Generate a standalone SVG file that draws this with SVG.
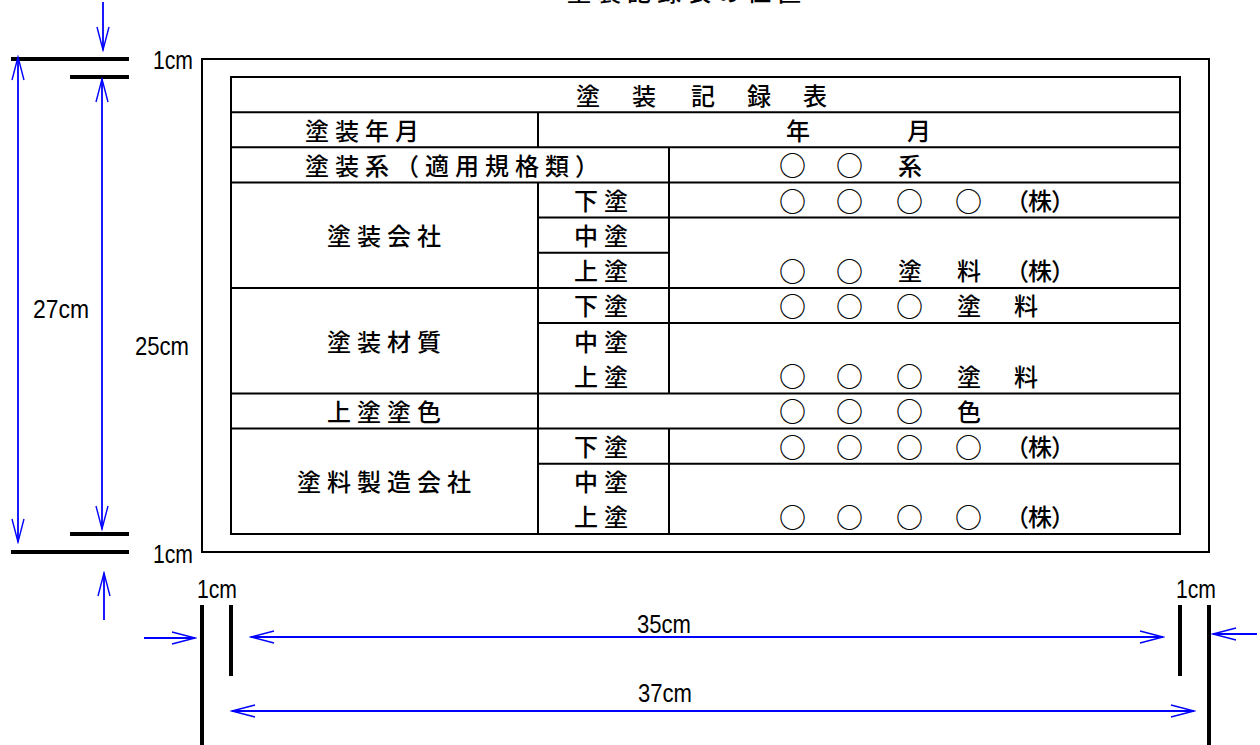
<svg xmlns="http://www.w3.org/2000/svg" width="1260" height="745" viewBox="0 0 1260 745">
<style>
.t{font-family:"Noto Sans CJK JP","Noto Sans CJK SC",sans-serif;font-size:24px;font-weight:500;fill:#000}
.c{font-family:"Noto Sans CJK JP","Noto Sans CJK SC",sans-serif;font-size:27px;font-weight:500;fill:#000}
.ls{letter-spacing:6px}
.d{font-family:"Liberation Sans",Arial,sans-serif;font-size:26px;fill:#000}
.g{stroke:#000;stroke-width:2;fill:none}
.k{stroke:#000;stroke-width:4;fill:none}
.b{stroke:#0000ff;stroke-width:1.8;fill:none}
</style>
<defs>
<marker id="ah" markerUnits="userSpaceOnUse" markerWidth="26" markerHeight="16" refX="24" refY="8" orient="auto-start-reverse" viewBox="0 0 26 16">
<path d="M1,2 L24,8 L1,14" fill="none" stroke="#0000ff" stroke-width="1.4"/>
</marker>
</defs>
<rect width="1260" height="745" fill="#fff"/>
<text class="t ls" x="567" y="0.5">塗装記録表の位置</text>
<g id="outer-frame">
<rect class="g" x="202" y="59" width="1007" height="493"/>
</g>
<g id="table">
<rect class="g" x="231" y="77" width="949" height="457"/>
<g class="g">
<line x1="231" y1="112.15" x2="1180" y2="112.15"/>
<line x1="231" y1="147.3" x2="1180" y2="147.3"/>
<line x1="231" y1="182.46" x2="1180" y2="182.46"/>
<line x1="538" y1="217.6" x2="1180" y2="217.6"/>
<line x1="538" y1="252.77" x2="669" y2="252.77"/>
<line x1="231" y1="287.9" x2="1180" y2="287.9"/>
<line x1="538" y1="323.1" x2="1180" y2="323.1"/>
<line x1="231" y1="393.4" x2="1180" y2="393.4"/>
<line x1="231" y1="428.5" x2="1180" y2="428.5"/>
<line x1="538" y1="463.7" x2="1180" y2="463.7"/>
<line x1="538" y1="112.15" x2="538" y2="147.3"/>
<line x1="669" y1="147.3" x2="669" y2="182.46"/>
<line x1="538" y1="182.46" x2="538" y2="393.4"/>
<line x1="669" y1="182.46" x2="669" y2="393.4"/>
<line x1="538" y1="393.4" x2="538" y2="534"/>
<line x1="669" y1="428.5" x2="669" y2="534"/>
</g>
<text class="t" x="576 632 691 747 803" y="104.5">塗装記録表</text>
<text class="t ls" x="305" y="139.7">塗装年月</text>
<text class="t" x="786 907" y="139.7">年月</text>
<text class="t ls" x="305" y="174.8">塗装系（適用規格類）</text>
<text class="c" x="779 836" y="176.3">○○</text>
<text class="t" x="898" y="174.8">系</text>
<text class="t ls" x="327" y="245.1">塗装会社</text>
<text class="t ls" x="574" y="210">下塗</text>
<text class="t ls" x="574" y="245.1">中塗</text>
<text class="t ls" x="574" y="280.3">上塗</text>
<text class="c" x="779 836 896 955" y="211.5">○○○○</text>
<text class="t" x="1005 1028 1051" y="210">（株）</text>
<text class="c" x="779 836" y="281.8">○○</text>
<text class="t" x="898 957 1005 1028 1051" y="280.3">塗料（株）</text>
<text class="t ls" x="327" y="350.6">塗装材質</text>
<text class="t ls" x="574" y="315.4">下塗</text>
<text class="t ls" x="574" y="350.6">中塗</text>
<text class="t ls" x="574" y="385.7">上塗</text>
<text class="c" x="779 836 896" y="316.9">○○○</text>
<text class="t" x="957 1014" y="315.4">塗料</text>
<text class="c" x="779 836 896" y="387.2">○○○</text>
<text class="t" x="957 1014" y="385.7">塗料</text>
<text class="t ls" x="327" y="420.9">上塗塗色</text>
<text class="c" x="779 836 896" y="422.4">○○○</text>
<text class="t" x="957" y="420.9">色</text>
<text class="t ls" x="297" y="491.2">塗料製造会社</text>
<text class="t ls" x="574" y="456">下塗</text>
<text class="t ls" x="574" y="491.2">中塗</text>
<text class="t ls" x="574" y="526.3">上塗</text>
<text class="c" x="779 836 896 955" y="457.5">○○○○</text>
<text class="t" x="1005 1028 1051" y="456">（株）</text>
<text class="c" x="779 836 896 955" y="527.8">○○○○</text>
<text class="t" x="1005 1028 1051" y="526.3">（株）</text>
</g>
<g id="dimension-marks">
<line class="k" x1="11" y1="59" x2="129" y2="59"/>
<line class="k" x1="70" y1="77" x2="129" y2="77"/>
<line class="k" x1="70" y1="534" x2="129" y2="534"/>
<line class="k" x1="11" y1="552" x2="129" y2="552"/>
<line class="k" x1="202" y1="605" x2="202" y2="745"/>
<line class="k" x1="231" y1="605" x2="231" y2="676"/>
<line class="k" x1="1180" y1="605" x2="1180" y2="676"/>
<line class="k" x1="1209" y1="605" x2="1209" y2="745"/>
<text class="d" x="153" y="69" textLength="40" lengthAdjust="spacingAndGlyphs">1cm</text>
<text class="d" x="153" y="563" textLength="40" lengthAdjust="spacingAndGlyphs">1cm</text>
<text class="d" x="197" y="598" textLength="40" lengthAdjust="spacingAndGlyphs">1cm</text>
<text class="d" x="1176" y="598" textLength="40" lengthAdjust="spacingAndGlyphs">1cm</text>
<text class="d" x="33" y="318" textLength="56" lengthAdjust="spacingAndGlyphs">27cm</text>
<text class="d" x="135" y="355" textLength="54" lengthAdjust="spacingAndGlyphs">25cm</text>
<text class="d" x="637" y="633" textLength="54" lengthAdjust="spacingAndGlyphs">35cm</text>
<text class="d" x="638" y="702" textLength="54" lengthAdjust="spacingAndGlyphs">37cm</text>
</g>
<g id="connectors">
<line class="b" x1="18" y1="57" x2="18" y2="542" marker-start="url(#ah)" marker-end="url(#ah)"/>
<line class="b" x1="102" y1="79" x2="102" y2="529" marker-start="url(#ah)" marker-end="url(#ah)"/>
<line class="b" x1="103" y1="2" x2="103" y2="50" marker-end="url(#ah)"/>
<line class="b" x1="104" y1="620" x2="104" y2="573" marker-end="url(#ah)"/>
<line class="b" x1="144" y1="638" x2="195" y2="638" marker-end="url(#ah)"/>
<line class="b" x1="1257" y1="634" x2="1213" y2="634" marker-end="url(#ah)"/>
<line class="b" x1="251" y1="637" x2="1163" y2="637" marker-start="url(#ah)" marker-end="url(#ah)"/>
<line class="b" x1="232" y1="711" x2="1194" y2="711" marker-start="url(#ah)" marker-end="url(#ah)"/>
</g>
</svg>
